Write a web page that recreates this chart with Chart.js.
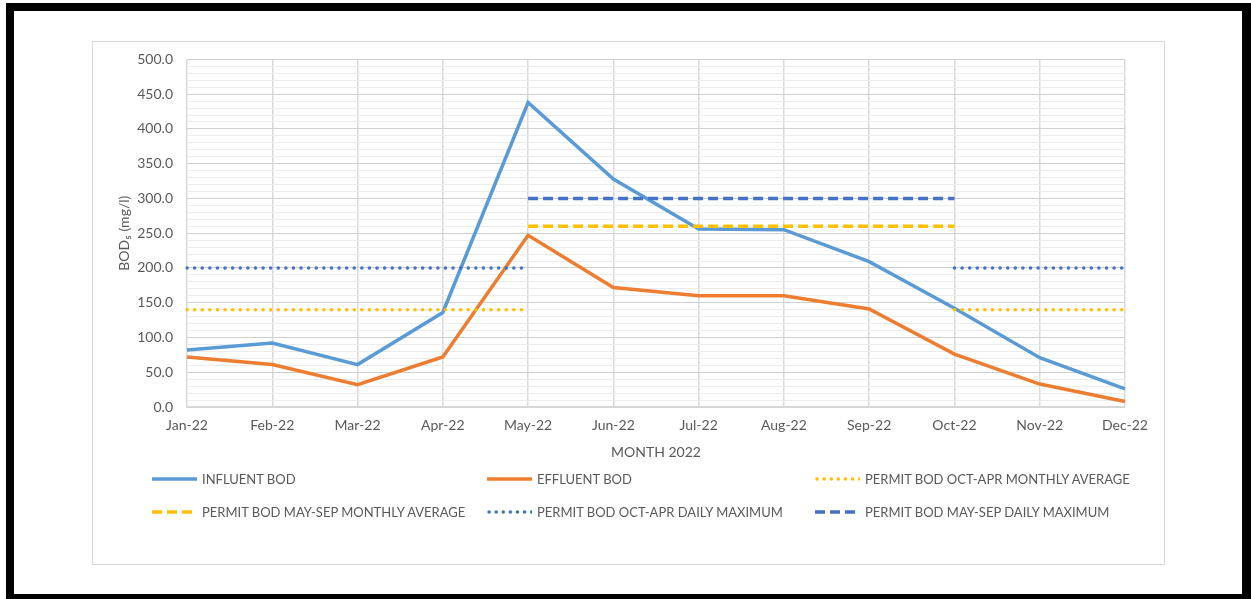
<!DOCTYPE html>
<html>
<head>
<meta charset="utf-8">
<script src="https://cdn.jsdelivr.net/npm/chart.js@4"></script>
<style>
  html, body { margin: 0; padding: 0; background: #fff; }
  body { width: 1251px; height: 599px; position: relative; overflow: hidden; font-family: Lato, "Open Sans", sans-serif; }
  #frame { position: absolute; left: 6px; top: 3px; width: 1245px; height: 596px; box-sizing: border-box; border: solid #000; border-width: 8px 9px 5px 8px; }
  #box { position: absolute; left: 92px; top: 41px; width: 1071px; height: 522px; border: 1px solid #d9d9d9; }
  #wrap { position: absolute; left: 93px; top: 37px; width: 1071px; height: 424px; }
  #legend { position: absolute; left: 0; top: 0; width: 1251px; height: 599px; pointer-events: none; }
  .item { position: absolute; display: flex; align-items: center; color: #595959; font-size: 13px; white-space: nowrap; }
  .item svg { margin-right: 5px; }
</style>
</head>
<body>
<div id="frame"></div>
<div id="box"></div>
<div id="wrap"><canvas id="bodChart"></canvas></div>
<div id="legend"></div>
<script>
const months = ["Jan-22", "Feb-22", "Mar-22", "Apr-22", "May-22", "Jun-22", "Jul-22", "Aug-22", "Sep-22", "Oct-22", "Nov-22", "Dec-22"];
const influentBod = [82, 92, 61, 136, 438, 328, 256, 255, 209, 142, 71, 26];
const effluentBod = [72, 61, 32, 72, 247, 172, 160, 160, 141, 76, 33, 8];
const octAprMonthlyAvg = [140, 140, 140, 140, 140, null, null, null, null, 140, 140, 140];
const maySepMonthlyAvg = [null, null, null, null, 260, 260, 260, 260, 260, 260, null, null];
const octAprDailyMax = [200, 200, 200, 200, 200, null, null, null, null, 200, 200, 200];
const maySepDailyMax = [null, null, null, null, 300, 300, 300, 300, 300, 300, null, null];
const yTicks = [0, 50, 100, 150, 200, 250, 300, 350, 400, 450, 500];

const seriesInfo = [
    { label: "INFLUENT BOD", data: influentBod, color: "#5B9BD5", dash: [] },
    { label: "EFFLUENT BOD", data: effluentBod, color: "#ED7D31", dash: [] },
    { label: "PERMIT BOD OCT-APR MONTHLY AVERAGE", data: octAprMonthlyAvg, color: "#FFC000", dash: "dot" },
    { label: "PERMIT BOD MAY-SEP MONTHLY AVERAGE", data: maySepMonthlyAvg, color: "#FFC000", dash: [10, 5] },
    { label: "PERMIT BOD OCT-APR DAILY MAXIMUM", data: octAprDailyMax, color: "#4472C4", dash: "dot" },
    { label: "PERMIT BOD MAY-SEP DAILY MAXIMUM", data: maySepDailyMax, color: "#4472C4", dash: [10, 5] }
];

const datasets = seriesInfo.map((s, i) => {
    const dotted = s.dash === "dot";
    return {
        label: s.label,
        data: s.data,
        borderColor: s.color,
        backgroundColor: s.color,
        borderWidth: 3.5,
        borderDash: dotted ? [0.1, 7.5] : s.dash,
        borderCapStyle: dotted ? "round" : "butt",
        pointRadius: 0,
        pointHoverRadius: 0,
        tension: 0,
        spanGaps: false,
        fill: false,
        order: seriesInfo.length - i
    };
});

const ctx = document.getElementById("bodChart").getContext("2d");
new Chart(ctx, {
    type: "line",
    data: { labels: months, datasets: datasets },
    options: {
        responsive: true,
        maintainAspectRatio: false,
        animation: false,
        layout: { padding: { left: 0, right: 39, top: 7, bottom: 0 } },
        plugins: { legend: { display: false }, tooltip: { enabled: false } },
        scales: {
            x: {
                offset: false,
                grid: { color: "#d9d9d9", lineWidth: 1.5, drawTicks: false },
                border: { color: "#d9d9d9", width: 1.5 },
                ticks: { color: "#595959", font: { family: "Lato", size: 14 }, padding: 10, maxRotation: 0, autoSkip: false },
                title: { display: true, text: "MONTH 2022", color: "#595959", font: { family: "Lato", size: 14 }, padding: { top: 4, bottom: 0 } },
                afterFit: scale => { scale.height = 54; }
            },
            y: {
                min: 0,
                max: 500,
                grid: {
                    drawTicks: false,
                    color: c => (c.tick.value % 50 === 0 ? "#d0d0d0" : "#ececec"),
                    lineWidth: 1
                },
                border: { display: false },
                ticks: {
                    stepSize: 10,
                    autoSkip: false,
                    padding: 14,
                    color: "#595959",
                    font: { family: "Lato", size: 14 },
                    callback: v => (yTicks.includes(v) ? v.toFixed(1) : "")
                },
                title: { display: true, text: "BOD\u2085 (mg/l)", color: "#595959", font: { family: "Lato", size: 14 }, padding: { top: 23, bottom: 0 } },
                afterFit: scale => { scale.width = 94; }
            }
        }
    }
});

// legend laid out in three columns like the original
const legendPos = [
    { x: 152, y: 479 }, { x: 487, y: 479 }, { x: 815, y: 479 },
    { x: 152, y: 512 }, { x: 487, y: 512 }, { x: 815, y: 512 }
];
const legend = document.getElementById("legend");
seriesInfo.forEach((s, i) => {
    const item = document.createElement("div");
    item.className = "item";
    item.style.left = legendPos[i].x + "px";
    item.style.top = (legendPos[i].y - 9) + "px";
    item.style.height = "18px";
    let dashAttr = "";
    let cap = "butt";
    if (s.dash === "dot") { dashAttr = 'stroke-dasharray="0.1 7"'; cap = "round"; }
    else if (s.dash.length) { dashAttr = 'stroke-dasharray="10 5"'; }
    item.innerHTML = '<svg width="45" height="10"><line x1="' + (cap === "round" ? 2 : 0) + '" y1="5" x2="45" y2="5" stroke="' + s.color +
        '" stroke-width="3.5" stroke-linecap="' + cap + '" ' + dashAttr + '></line></svg><span>' + s.label + '</span>';
    legend.appendChild(item);
});
</script>
</body>
</html>
